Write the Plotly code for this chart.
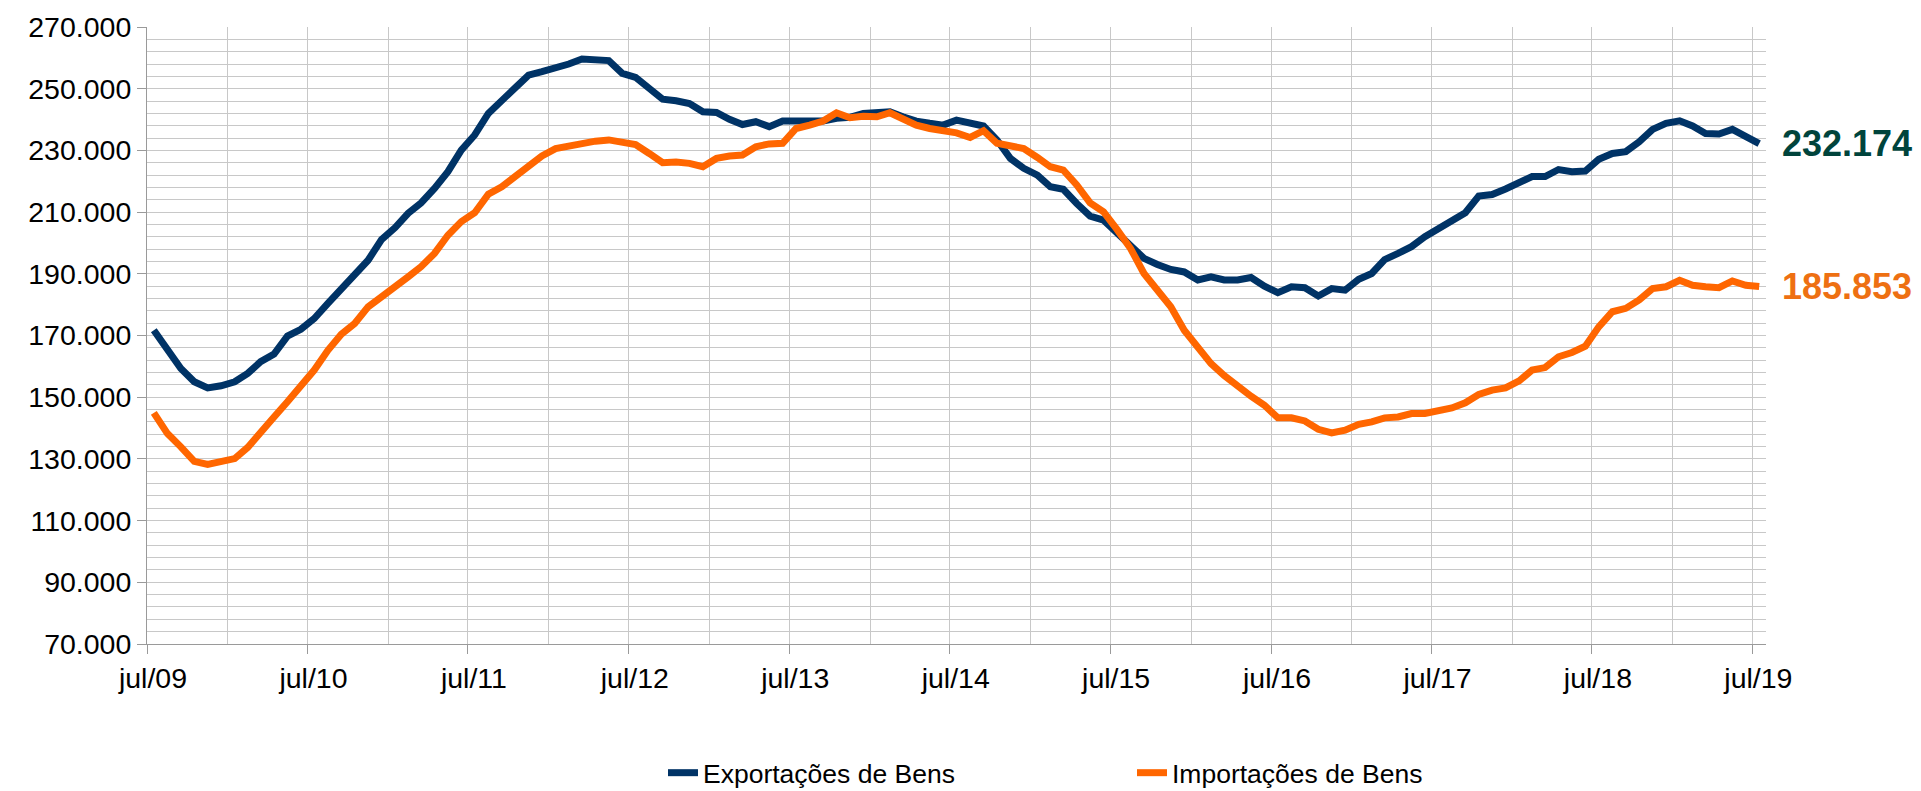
import pandas as pd
import plotly.graph_objects as go

# Monthly data, jul/2009 .. jul/2019 (values in thousands)
months = pd.date_range("2009-07-01", periods=121, freq="MS")

exportacoes_k = [
    171.7, 165.5, 159.3, 155.0, 153.0, 153.7, 155.0, 157.7, 161.5, 164.0, 169.8, 172.0,
    175.5, 180.4, 185.2, 189.6, 194.4, 201.1, 205.0, 209.6, 213.0, 217.7, 223.1, 230.1,
    235.0, 242.0, 246.3, 250.1, 254.4, 255.5, 256.6, 258.0, 259.6, 259.1, 259.1, 255.0,
    253.7, 250.1, 246.6, 246.1, 245.2, 242.5, 242.3, 240.1, 238.4, 239.3, 237.7, 239.5,
    239.5, 239.0, 239.5, 240.4, 240.7, 242.0, 242.0, 242.5, 240.9, 239.5, 238.8, 238.2,
    239.8, 239.0, 237.9, 233.4, 227.4, 224.2, 222.0, 218.2, 217.4, 212.8, 208.7, 207.4,
    203.1, 198.8, 195.0, 193.0, 191.4, 190.6, 188.0, 189.0, 188.0, 188.0, 188.8, 186.0,
    183.9, 185.8, 185.5, 182.8, 185.2, 184.7, 188.2, 190.1, 194.6, 196.6, 198.8, 202.0,
    204.5, 207.1, 209.8, 215.2, 215.7, 217.5, 219.5, 221.5, 221.5, 223.8, 223.1, 223.3,
    227.1, 229.0, 229.6, 232.8, 236.8, 238.8, 239.6, 237.9, 235.5, 235.3, 236.8, 234.6,
    232.174,
]

importacoes_k = [
    144.9, 138.2, 133.9, 129.2, 128.2, 129.0, 130.1, 133.7, 138.2, 143.6, 148.5, 153.4,
    158.8, 165.2, 170.4, 173.9, 179.3, 182.5, 185.6, 189.0, 192.3, 196.6, 202.5, 206.9,
    209.8, 215.8, 218.2, 221.5, 225.2, 228.2, 230.6, 231.4, 232.6, 233.0, 233.4, 232.8,
    231.9, 229.0, 226.0, 226.2, 225.8, 224.7, 227.4, 228.2, 228.5, 231.2, 232.1, 232.3,
    237.1, 238.2, 239.5, 242.2, 240.6, 241.1, 240.9, 242.2, 240.4, 238.2, 237.1, 236.4,
    235.7, 234.2, 236.4, 232.3, 231.4, 230.6, 227.7, 224.7, 223.6, 218.8, 213.0, 210.1,
    204.4, 198.2, 190.1, 184.7, 179.3, 171.7, 165.8, 160.9, 157.0, 153.4, 150.3, 147.4,
    143.3, 143.3, 142.3, 139.6, 138.4, 139.3, 141.2, 142.0, 143.3, 143.6, 144.7, 144.7,
    145.5, 146.5, 148.2, 150.9, 152.3, 153.0, 155.3, 158.8, 159.6, 163.1, 164.5, 166.5,
    172.8, 177.7, 178.8, 181.5, 185.2, 185.8, 187.9, 186.3, 185.8, 185.5, 187.7, 186.3,
    185.853,
]

exportacoes = [v * 1000 for v in exportacoes_k]
importacoes = [v * 1000 for v in importacoes_k]

tick_dates = ["2009-07-01", "2010-07-01", "2011-07-01", "2012-07-01", "2013-07-01", "2014-07-01",
              "2015-07-01", "2016-07-01", "2017-07-01", "2018-07-01", "2019-07-01"]
tick_labels = ["jul/09", "jul/10", "jul/11", "jul/12", "jul/13", "jul/14",
               "jul/15", "jul/16", "jul/17", "jul/18", "jul/19"]

series_names = ["Exportações de Bens", "Importações de Bens"]
line_colors = ["#003366", "#FF6600"]
label_colors = ["#00443C", "#EE7012"]

GRID = "#C8C8C8"
AXIS = "#9A9A9A"
FONT = "Liberation Sans, Arial, sans-serif"

fig = go.Figure()
for name, vals, col in zip(series_names, [exportacoes, importacoes], line_colors):
    fig.add_trace(go.Scatter(
        x=months, y=vals, name=name, mode="lines",
        xperiod="M1", xperiodalignment="middle",
        line=dict(color=col, width=7),
    ))

def fmt(v):
    return f"{v:,.0f}".replace(",", ".")

for vals, col in zip([exportacoes, importacoes], label_colors):
    fig.add_annotation(
        xref="paper", x=1, xshift=14, xanchor="left",
        yref="y", y=vals[-1], yanchor="middle",
        text=f"<b>{fmt(vals[-1])}</b>", showarrow=False,
        font=dict(family=FONT, size=36, color=col),
    )

fig.update_layout(
    width=1921, height=791,
    margin=dict(l=147, r=155, t=27, b=147, autoexpand=False),
    plot_bgcolor="white", paper_bgcolor="white",
    separators=",.",
    font=dict(family=FONT, color="black"),
    showlegend=True,
    legend=dict(
        orientation="h", x=0.3187, xanchor="left", y=-0.2090, yanchor="middle",
        font=dict(family=FONT, size=26.5, color="black"),
        entrywidth=424, entrywidthmode="pixels",
        itemwidth=30, tracegroupgap=0,
    ),
    xaxis=dict(
        type="date", automargin=False,
        range=["2009-07-01", "2019-08-01"],
        tickmode="array", tickvals=tick_dates, ticktext=tick_labels,
        ticklabelshift=6,
        ticks="outside", ticklen=9, tickcolor=AXIS, tickwidth=1,
        showline=True, linecolor=AXIS, linewidth=1,
        showgrid=True, gridcolor=GRID, gridwidth=1,
        minor=dict(dtick="M6", tick0="2009-07-01", showgrid=True, gridcolor=GRID, gridwidth=1, ticks=""),
        tickfont=dict(family=FONT, size=28.5, color="black"),
        zeroline=False,
    ),
    yaxis=dict(
        automargin=False,
        range=[70000, 270000],
        tick0=70000, dtick=20000, tickformat=",.0f",
        ticks="outside", ticklen=9, tickcolor=AXIS, tickwidth=1,
        showline=True, linecolor=AXIS, linewidth=1,
        showgrid=True, gridcolor=GRID, gridwidth=1,
        minor=dict(dtick=4000, tick0=70000, showgrid=True, gridcolor=GRID, gridwidth=1, ticks=""),
        tickfont=dict(family=FONT, size=28.5, color="black"),
        zeroline=False,
    ),
)

fig.write_html("out.html", config={"displayModeBar": False},
               post_script="document.body.style.margin='0';")
